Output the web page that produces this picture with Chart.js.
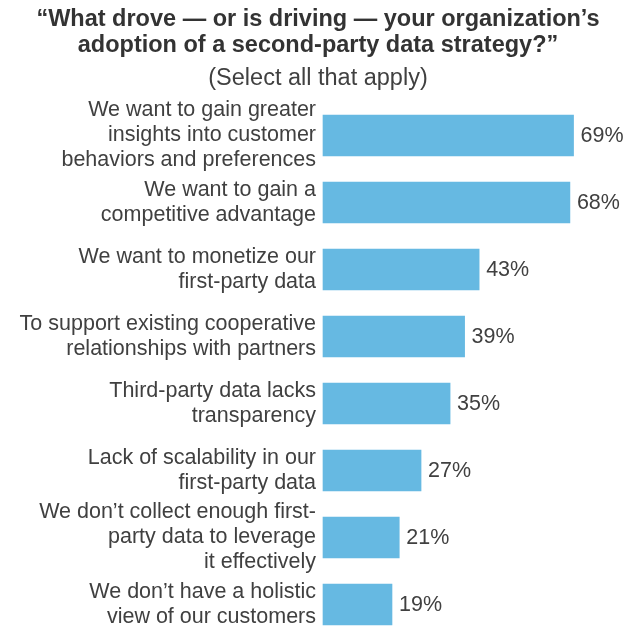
<!DOCTYPE html>
<html><head><meta charset="utf-8">
<script src="https://cdn.jsdelivr.net/npm/chart.js@4/dist/chart.umd.min.js"></script>
<style>html,body{margin:0;padding:0;background:#fff;}#wrap{width:636px;height:626px;}</style>
</head><body><div id="wrap"><canvas id="c"></canvas></div>
<script>
const categories = [
  ["We want to gain greater","insights into customer","behaviors and preferences"],
  ["We want to gain a","competitive advantage"],
  ["We want to monetize our","first-party data"],
  ["To support existing cooperative","relationships with partners"],
  ["Third-party data lacks","transparency"],
  ["Lack of scalability in our","first-party data"],
  ["We don\u2019t collect enough first-","party data to leverage","it effectively"],
  ["We don\u2019t have a holistic","view of our customers"]
];
const values = [69, 68, 43, 39, 35, 27, 21, 19];
const titleLines = ["\u201cWhat drove \u2014 or is driving \u2014 your organization\u2019s","adoption of a second-party data strategy?\u201d"];
const subtitleText = "(Select all that apply)";

const FONT = "'Liberation Sans', Arial, sans-serif";
const TEXT = "#404040";

const valueLabels = {
  id: 'valueLabels',
  afterDatasetsDraw(chart) {
    const ctx = chart.ctx;
    const meta = chart.getDatasetMeta(0);
    ctx.save();
    ctx.font = "21.5px " + FONT;
    ctx.fillStyle = TEXT;
    ctx.textAlign = 'left';
    ctx.textBaseline = 'middle';
    meta.data.forEach((bar, i) => {
      ctx.fillText(values[i] + '%', bar.x + 7, bar.y + 1);
    });
    ctx.restore();
  }
};

new Chart(document.getElementById('c'), {
  type: 'bar',
  data: {
    labels: categories,
    datasets: [{
      data: values,
      backgroundColor: '#66b9e2',
      borderWidth: 0,
      barThickness: 41,
      clip: false
    }]
  },
  options: {
    indexAxis: 'y',
    responsive: true,
    maintainAspectRatio: false,
    animation: false,
    layout: { padding: { left: 0, right: 0, top: 0, bottom: 21.5 } },
    plugins: {
      legend: { display: false },
      tooltip: { enabled: false },
      title: {
        display: true,
        text: titleLines,
        color: '#333333',
        font: { family: FONT, size: 23.5, weight: 'bold', lineHeight: 1.12 },
        padding: { top: 6, bottom: 0 }
      },
      subtitle: {
        display: true,
        text: subtitleText,
        color: TEXT,
        font: { family: FONT, size: 23.5, lineHeight: 1.1 },
        padding: { top: 7, bottom: 44 }
      }
    },
    scales: {
      x: { display: false, min: 0, max: 86.2 },
      y: {
        offset: false,
        grid: { display: false, drawTicks: false },
        border: { display: false },
        ticks: {
          color: TEXT,
          font: { family: FONT, size: 21.5, lineHeight: 1.163 },
          padding: 7,
          autoSkip: false
        },
        afterFit(scale) {
          scale.width = 323;
          scale.paddingTop = 0;
          scale.paddingBottom = 0;
        }
      }
    }
  },
  plugins: [valueLabels]
});
</script>
</body></html>
